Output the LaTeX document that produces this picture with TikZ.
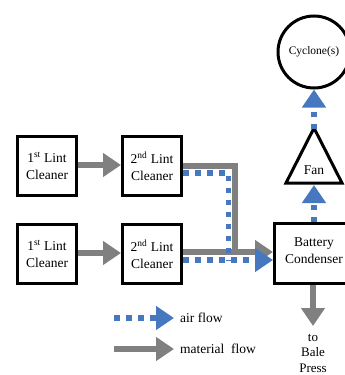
\documentclass[tikz,border=0pt]{standalone}
\usepackage{fontspec}
\setmainfont{Liberation Serif}
\usetikzlibrary{arrows.meta}
\definecolor{airblue}{RGB}{70,120,192}
\definecolor{matgray}{RGB}{128,128,128}
\begin{document}
\begin{tikzpicture}[x=1pt,y=-1pt,
  box/.style={draw=black,line width=3pt,minimum width=59pt,minimum height=59pt,inner sep=0pt,align=center,font=\fontsize{13.5}{17}\selectfont},
  mat/.style={draw=matgray,line width=6pt},
  matarrow/.style={mat,-{Triangle[length=18pt,width=23pt]}},
  air/.style={draw=airblue,line width=5.5pt,dash pattern=on 5.5pt off 6.5pt},
  airarrow/.style={air,-{Triangle[length=18pt,width=23pt,fill=airblue]}},
  lbl/.style={font=\fontsize{13.5}{16}\selectfont,inner sep=0pt,align=center}]
\useasboundingbox (0,0) rectangle (345,375);
\clip (0,0) rectangle (345,375);
% boxes
\node[box] (a1) at (47,166) {1\textsuperscript{st} Lint\\Cleaner};
\node[box] (a2) at (152,166) {2\textsuperscript{nd} Lint\\Cleaner};
\node[box] (b1) at (47,254) {1\textsuperscript{st} Lint\\Cleaner};
\node[box] (b2) at (152,254) {2\textsuperscript{nd} Lint\\Cleaner};
\node[box,minimum width=81pt,minimum height=60pt] (cond) at (315,253.5) {};
\node[lbl,font=\fontsize{13.5}{17}\selectfont] (condtxt) at (314,251) {Battery\\Condenser};
% fan
\coordinate (fanapex) at (314,128);
\coordinate (fanbase) at (314,183);
\draw[line width=3pt,line join=miter] (fanapex) -- (342,183) -- (286,183) -- cycle;
\node[lbl] (fan) at (314,170) {Fan};
% cyclone
\node[draw,circle,line width=3pt,minimum size=72pt,inner sep=0pt,font=\fontsize{11.5}{13}\selectfont] (cyc) at (314,52) {Cyclone(s)};
% material flow
\draw[matarrow] (a1.east |- 0,165) -- (a2.west |- 0,165);
\draw[matarrow] (b1.east |- 0,253) -- (b2.west |- 0,253);
\draw[mat] (a2.east |- 0,165.5) -- (235,165.5) -- (235,252);
\draw[matarrow] (b2.east |- 0,252) -- (cond.west |- 0,252);
\draw[matarrow] (cond.south -| 313,0) -- (313,326);
% air flow
\draw[air] (a2.east |- 0,173) -- (228.5,173) -- (228.5,261);
\draw[airarrow] (b2.east |- 0,260) -- (cond.west |- 0,260);
\draw[airarrow] (cond.north -| 314,0) -- ([yshift=-2pt]fanbase);
\draw[airarrow] ([yshift=-1pt]fanapex) -- (cyc.south);
% output text
\node[lbl,font=\fontsize{13}{15.5}\selectfont] (bale) at (313,353) {to\\Bale\\Press};
% legend
\coordinate (la1) at (114,318);
\coordinate (la2) at (174,318);
\coordinate (lm1) at (114,349);
\coordinate (lm2) at (174,349);
\draw[airarrow] (la1) -- (la2);
\draw[matarrow] (lm1) -- (lm2);
\node[lbl,anchor=west] (airtxt) at (180,318) {air flow};
\node[lbl,anchor=west] (mattxt) at (180,349) {material\ \ flow};
\end{tikzpicture}
\end{document}
